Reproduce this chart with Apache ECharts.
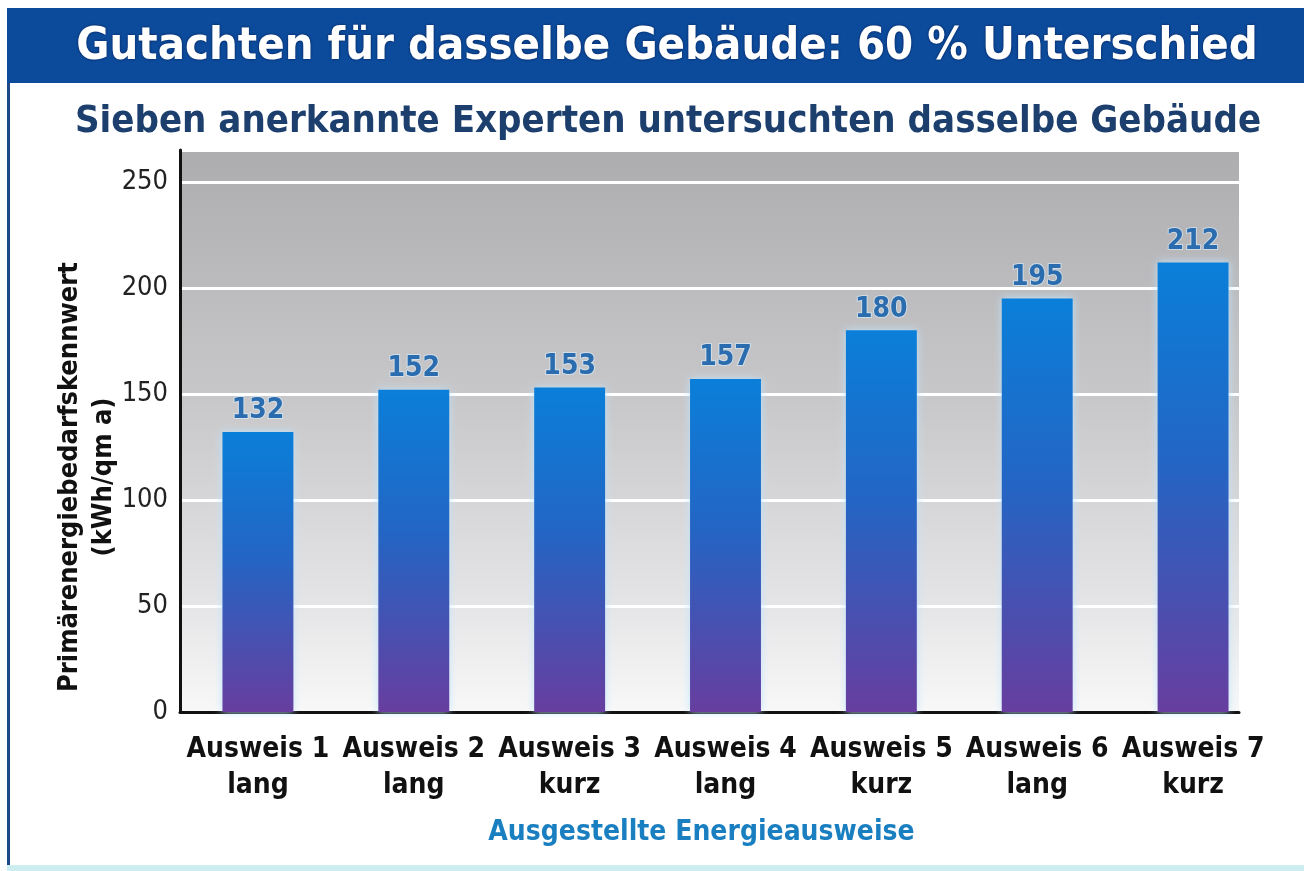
<!DOCTYPE html>
<html><head><meta charset="utf-8">
<script src="https://cdn.jsdelivr.net/npm/echarts@6/dist/echarts.min.js"></script>
<style>html,body{margin:0;padding:0;background:#fff}#c{width:1304px;height:871px}</style>
</head><body><div id="c"></div>
<script>
const titleText = 'Gutachten für dasselbe Gebäude: 60 % Unterschied';
const subtitleText = 'Sieben anerkannte Experten untersuchten dasselbe Gebäude';
const categories = ['Ausweis 1\nlang','Ausweis 2\nlang','Ausweis 3\nkurz','Ausweis 4\nlang','Ausweis 5\nkurz','Ausweis 6\nlang','Ausweis 7\nkurz'];
const values = [132, 152, 153, 157, 180, 195, 212];
const yMin = 0, yMax = 265, yInterval = 50;
const yName = 'Primärenergiebedarfskennwert\n(kWh/qm a)';
const xName = 'Ausgestellte Energieausweise';

const FONT = "'Liberation Sans Narrow','DejaVu Sans Condensed','Roboto Condensed','Liberation Sans',sans-serif";
const chart = echarts.init(document.getElementById('c'), null, {renderer:'canvas'});
const bg = new echarts.graphic.LinearGradient(0,0,0,1,[
  {offset:0,color:'#adadb0'},{offset:0.45,color:'#c8c8ca'},{offset:0.8,color:'#e4e4e6'},{offset:1,color:'#f8f8f8'}]);
const barGrad = new echarts.graphic.LinearGradient(0,0,0,1,[
  {offset:0,color:'#0a7fd9'},{offset:0.45,color:'#2465c4'},{offset:1,color:'#673e9f'}]);

chart.setOption({
  animation:false,
  backgroundColor:'#ffffff',
  graphic:[
    {type:'rect', z:-10, shape:{x:7,y:8,width:1297,height:75}, style:{fill:'#0c4b9b'}},
    {type:'rect', z:-10, shape:{x:7,y:83,width:3,height:783}, style:{fill:'#1d4a86'}},
    {type:'rect', z:-10, shape:{x:7,y:865,width:1297,height:6}, style:{fill:'#cdeef0'}}
  ],
  title:[
    {text:titleText, left:662, top:20, textAlign:'center',
     textStyle:{color:'#ffffff', fontFamily:FONT, fontWeight:'bold', fontSize:45,
       textShadowColor:'rgba(0,0,40,0.6)', textShadowBlur:3}},
    {text:subtitleText, left:663, top:98, textAlign:'center',
     textStyle:{color:'#1c3f6e', fontFamily:FONT, fontWeight:'bold', fontSize:38}}
  ],
  grid:[
    {left:180, top:150, right:65, bottom:159, show:true, backgroundColor:bg, borderWidth:0},
    {left:180, top:150, right:33, bottom:159, show:false}
  ],
  xAxis:[
    {type:'category', gridIndex:0, data:categories, boundaryGap:true,
     axisLine:{show:true, lineStyle:{color:'#111', width:3}}, axisTick:{show:false}, axisLabel:{show:false},
     name:xName, nameLocation:'middle', nameGap:107,
     nameTextStyle:{color:'#1a7fc0', fontFamily:FONT, fontWeight:'bold', fontSize:28, padding:[0,16,0,0]}},
    {type:'category', gridIndex:1, data:categories, boundaryGap:true,
     axisLine:{show:false}, axisTick:{show:false},
     axisLabel:{show:true, color:'#111', fontFamily:FONT, fontWeight:'bold', fontSize:28, lineHeight:36, margin:20, interval:0}}
  ],
  yAxis:[
    {type:'value', gridIndex:0, min:yMin, max:yMax, interval:yInterval,
     axisLine:{show:true, lineStyle:{color:'#111', width:3}}, axisTick:{show:false},
     axisLabel:{color:'#222', fontFamily:FONT, fontSize:27, margin:12, showMaxLabel:false},
     splitLine:{show:true, lineStyle:{color:'#ffffff', width:3}},
     name:yName, nameLocation:'middle', nameGap:59, nameRotate:90, nameMoveOverlap:false,
     nameTextStyle:{color:'#111', fontFamily:FONT, fontWeight:'bold', fontSize:27, lineHeight:34, padding:[0,92,0,0]}},
    {type:'value', gridIndex:1, min:yMin, max:yMax, interval:yInterval, show:false, splitLine:{show:false}}
  ],
  series:[{
    type:'bar', xAxisIndex:1, yAxisIndex:1, data:values, barWidth:'45.5%',
    itemStyle:{color:barGrad, shadowColor:'rgba(190,228,255,0.95)', shadowBlur:8},
    label:{show:true, position:'top', distance:7, color:'#2a6cae', fontFamily:FONT, fontWeight:'bold', fontSize:28,
      textBorderColor:'rgba(220,240,255,0.6)', textBorderWidth:2}
  }]
});
</script></body></html>
